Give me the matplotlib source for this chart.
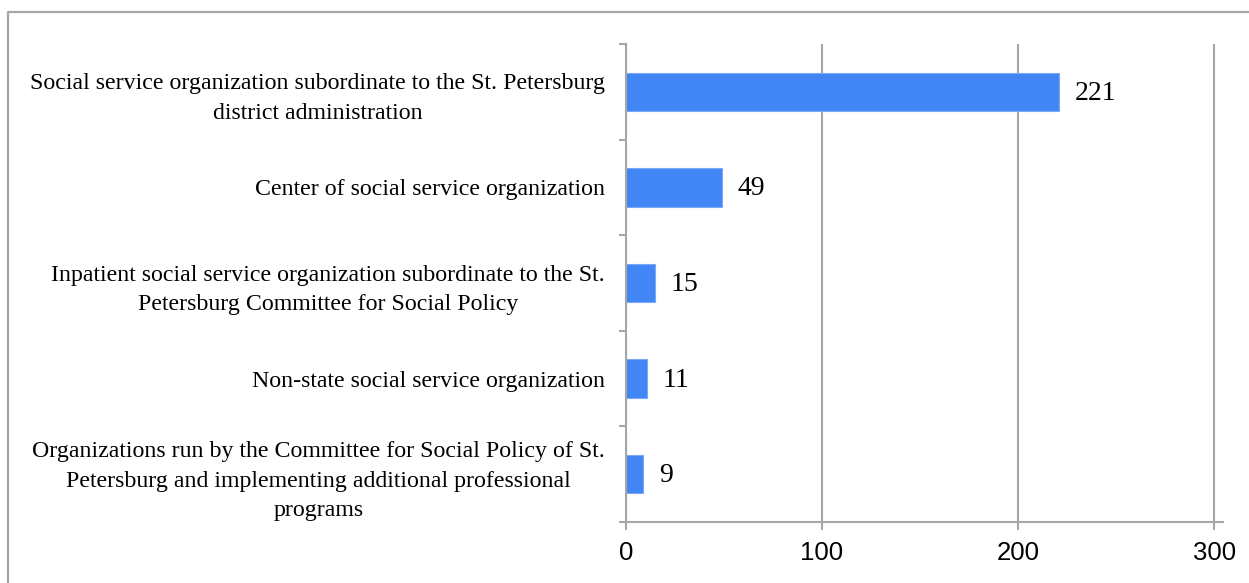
import matplotlib.pyplot as plt
from matplotlib.lines import Line2D

# number of organizations by type
categories = [
    'Social service organization subordinate to the St. Petersburg\ndistrict administration',
    'Center of social service organization',
    'Inpatient social service organization subordinate to the St.\nPetersburg Committee for Social Policy',
    'Non-state social service organization',
    'Organizations run by the Committee for Social Policy of St.\nPetersburg and implementing additional professional\nprograms',
]
counts = [221, 49, 15, 11, 9]
x_ticks = [0, 100, 200, 300]

BAR_COLOR = '#4285F4'
GRID_COLOR = '#A6A6A6'
SERIF = 'Liberation Serif'
SANS = 'Liberation Sans'


def plot_counts(filename=None):
    fig = plt.figure(figsize=(12.49, 5.83), dpi=100)
    ax = fig.add_axes([0.501, 0.1046, 0.4785, 0.8199])

    ys = list(range(len(categories)))
    ax.barh(ys, counts, height=0.4, color=BAR_COLOR,
            edgecolor='#7BA9F7', linewidth=0.8, zorder=3)

    for y, c in zip(ys, counts):
        ax.annotate(str(c), (c, y), xytext=(11, -1), textcoords='offset points',
                    va='center', ha='left', fontsize=20, family=SERIF)

    ax.set_ylim(len(categories) - 0.5, -0.5)
    ax.set_xlim(0, 304.7)

    # category labels sit between the tick marks
    ax.set_yticks(ys)
    ax.set_yticklabels(categories, family=SERIF, fontsize=17.2, ma='center',
                       linespacing=1.55)
    ax.tick_params(axis='y', length=0, pad=15)
    ax.set_yticks([y + 0.5 for y in [-1] + ys], minor=True)
    ax.tick_params(axis='y', which='minor', length=5, width=1.5,
                   color=GRID_COLOR, direction='out')

    ax.set_xticks(x_ticks)
    ax.set_xticklabels([str(t) for t in x_ticks], family=SANS, fontsize=18.5)
    ax.tick_params(axis='x', length=6, width=1.5, color=GRID_COLOR, pad=8)

    ax.grid(axis='x', color=GRID_COLOR, linewidth=1.5, zorder=0)
    for side in ('top', 'right'):
        ax.spines[side].set_visible(False)
    for side in ('left', 'bottom'):
        ax.spines[side].set_color(GRID_COLOR)
        ax.spines[side].set_linewidth(1.5)
        ax.spines[side].set_zorder(4)

    # frame around the chart area
    fig.add_artist(Line2D([8 / 1249, 8 / 1249, 1], [0, 1 - 12 / 583, 1 - 12 / 583],
                          transform=fig.transFigure, color=GRID_COLOR, linewidth=1.6))

    if filename:
        fig.savefig(filename, dpi=100)


if __name__ == '__main__':
    plot_counts('out.png')
